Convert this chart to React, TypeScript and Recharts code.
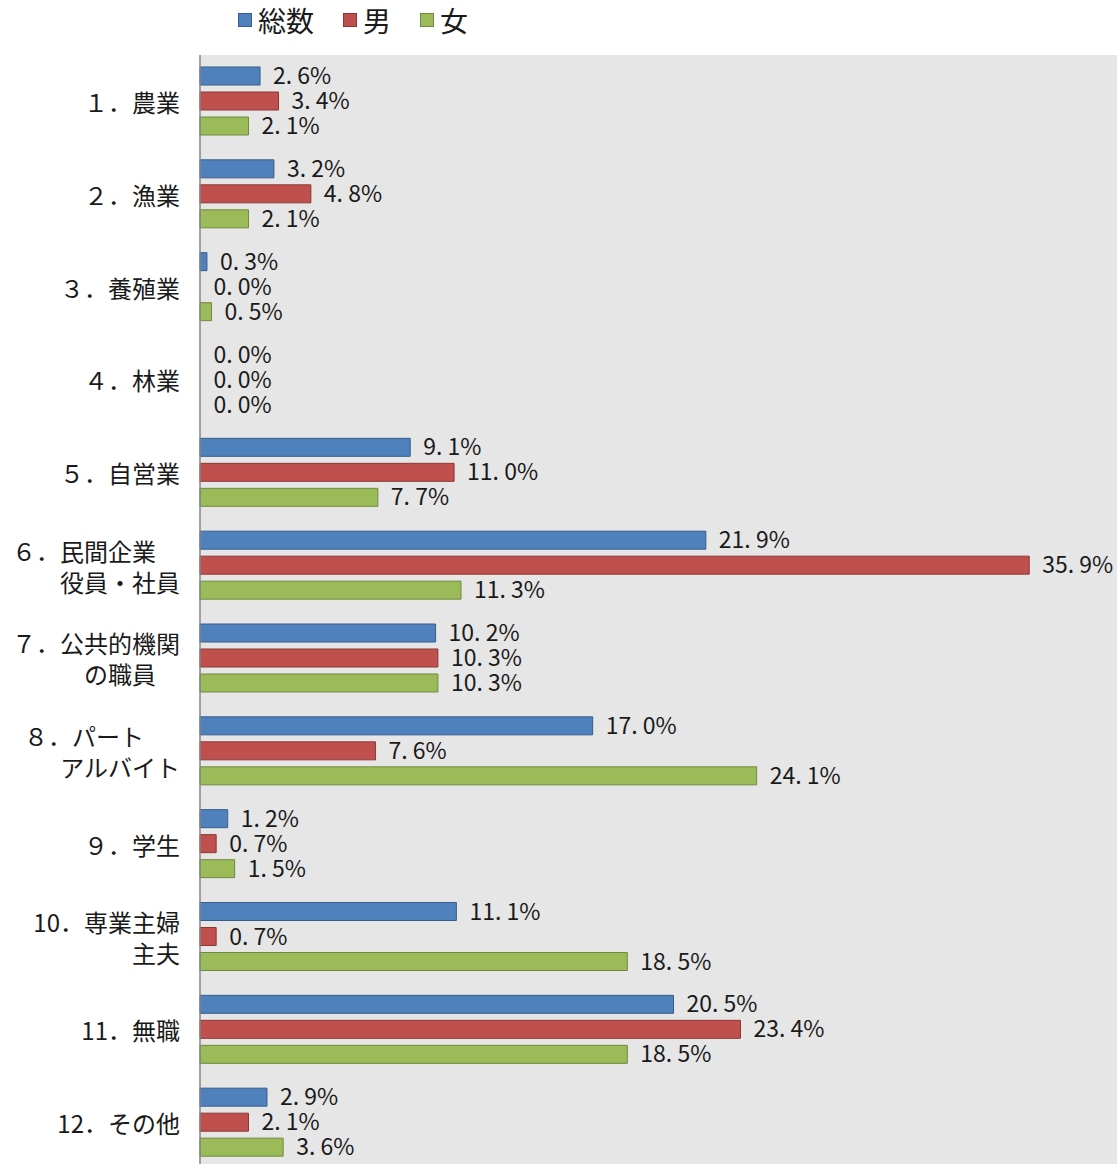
import React from "react";
import { BarChart, Bar, XAxis, YAxis, CartesianGrid, LabelList, Cell } from "recharts";

const categories = [
  "１．農業",
  "２．漁業",
  "３．養殖業",
  "４．林業",
  "５．自営業",
  "６．民間企業　\n役員・社員",
  "７．公共的機関\nの職員　",
  "８．パート　\u2002\nアルバイト",
  "９．学生",
  "10．専業主婦\n主夫",
  "11．無職",
  "12．その他",
];
const totalValues = [2.6, 3.2, 0.3, 0.0, 9.1, 21.9, 10.2, 17.0, 1.2, 11.1, 20.5, 2.9];
const maleValues = [3.4, 4.8, 0.0, 0.0, 11.0, 35.9, 10.3, 7.6, 0.7, 0.7, 23.4, 2.1];
const femaleValues = [2.1, 2.1, 0.5, 0.0, 7.7, 11.3, 10.3, 24.1, 1.5, 18.5, 18.5, 3.6];

const seriesNames = ["総数", "男", "女"];
const seriesKeys = ["total", "male", "female"];
const seriesValues = [totalValues, maleValues, femaleValues];
const seriesFill = ["#4f81bd", "#c0504d", "#9bbb59"];
const seriesStroke = ["#385d8a", "#8c3836", "#71893f"];

const data = categories.map((c, i) => ({
  name: c,
  total: totalValues[i],
  male: maleValues[i],
  female: femaleValues[i],
}));

const FONT = "'Noto Sans CJK JP', 'Noto Sans', sans-serif";

const fmt = (v: any) => {
  const s = Number(v).toFixed(1);
  const [a, b] = s.split(".");
  return `${a}. ${b}%`;
};

const CategoryTick = (props: any) => {
  const { x, y, payload } = props;
  const lines = String(payload.value).split("\n");
  const spacing = 31;
  const start = y - ((lines.length - 1) * spacing) / 2;
  return (
    <g>
      {lines.map((ln: string, i: number) => (
        <text
          key={i}
          x={x}
          y={start + i * spacing}
          textAnchor="end"
          dominantBaseline="central"
          fontFamily={FONT}
          fontSize={24}
          fill="#1a1a1a"
        >
          {ln}
        </text>
      ))}
    </g>
  );
};

export default function App() {
  return (
    <div
      style={{
        position: "absolute",
        left: 0,
        top: 0,
        width: 1117,
        height: 1164,
        background: "#fff",
        overflow: "hidden",
      }}
    >
      <div
        style={{
          position: "absolute",
          left: 238,
          top: 2,
          display: "flex",
          alignItems: "center",
          fontFamily: FONT,
          fontSize: 28,
          color: "#1a1a1a",
          lineHeight: "36px",
        }}
      >
        {seriesNames.map((n, i) => (
          <div key={n} style={{ display: "flex", alignItems: "center", marginRight: 29 }}>
            <div
              style={{
                width: 12,
                height: 12,
                background: seriesFill[i],
                border: `1px solid ${seriesStroke[i]}`,
                marginRight: 6,
              }}
            />
            <span>{n}</span>
          </div>
        ))}
      </div>
      <BarChart
        width={1117}
        height={1169}
        data={data}
        layout="vertical"
        margin={{ top: 55, right: 0, bottom: 0, left: 0 }}
        barSize={18}
        barGap={7}
      >
        <CartesianGrid horizontal={false} vertical={false} fill="#e6e6e6" stroke="none" />
        <XAxis type="number" domain={[0, 39.7]} hide />
        <YAxis
          type="category"
          dataKey="name"
          width={200}
          tickLine={false}
          tickSize={0}
          tickMargin={20}
          axisLine={{ stroke: "#868686", strokeWidth: 1.5 }}
          tick={<CategoryTick />}
          interval={0}
        />
        {seriesKeys.map((k, i) => (
          <Bar
            key={k}
            dataKey={k}
            name={seriesNames[i]}
            fill={seriesFill[i]}
            stroke={seriesStroke[i]}
            strokeWidth={1}
            minPointSize={0.5}
            isAnimationActive={false}
          >
            {seriesValues[i].map((v, j) => (
              <Cell
                key={j}
                fill={v > 0 ? seriesFill[i] : "none"}
                stroke={v > 0 ? seriesStroke[i] : "none"}
              />
            ))}
            <LabelList
              dataKey={k}
              position="right"
              offset={13}
              formatter={fmt}
              style={{ fontFamily: FONT, fontSize: 23, fill: "#1a1a1a" }}
            />
          </Bar>
        ))}
      </BarChart>
    </div>
  );
}
